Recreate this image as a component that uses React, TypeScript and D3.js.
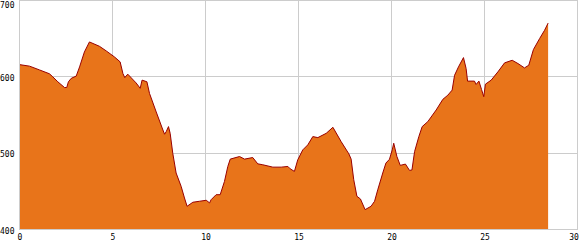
import React from "react";
import * as d3 from "d3";

const distances: number[] = [
  0, 0.54, 1.08, 1.61, 1.79, 2.06, 2.42, 2.54, 2.63, 2.78, 3.05, 3.23, 3.49, 3.76, 4.3, 4.66, 5.11,
  5.41, 5.56, 5.66, 5.82, 6.27, 6.49, 6.59, 6.85, 6.99, 7.35, 7.71, 7.8, 7.89, 8.01, 8.1, 8.24, 8.42,
  8.69, 8.87, 9.01, 9.32, 9.68, 10.04, 10.22, 10.3, 10.57, 10.79, 11.02, 11.2, 11.33, 11.83, 12.1,
  12.54, 12.81, 13.08, 13.62, 14.07, 14.43, 14.55, 14.78, 14.96, 15.23, 15.5, 15.77, 16.04, 16.49,
  16.85, 17.29, 17.71, 17.83, 17.97, 18.14, 18.33, 18.58, 18.9, 19.09, 19.26, 19.53, 19.7, 19.89,
  20.04, 20.12, 20.29, 20.47, 20.75, 20.97, 21.1, 21.24, 21.47, 21.65, 21.95, 22.4, 22.76, 23.03,
  23.26, 23.39, 23.6, 23.87, 24.01, 24.09, 24.46, 24.55, 24.7, 24.84, 24.96, 25.05, 25.36, 25.72,
  26.08, 26.49, 26.8, 27.15, 27.38, 27.63, 27.96, 28.23, 28.42,
];

const elevations: number[] = [
  616, 614, 609, 604, 600, 593.5, 586, 586, 593.5, 598, 601, 613, 632.6, 645.7, 640, 634, 626,
  619.6, 604.3, 599, 603.5, 592, 585, 595.7, 593.5, 578.3, 554, 530.4, 524.8, 528.3, 534.8, 526, 500,
  474, 456.5, 441.3, 430.4, 435.7, 437, 438.3, 434.8, 439, 445.6, 445.6, 463, 482.6, 492.2, 495.6,
  492.2, 494.3, 486, 484.8, 481.7, 481.7, 482.6, 479.6, 476.1, 491.3, 504.3, 510.9, 521.7, 520.4,
  526, 533.9, 515.2, 499, 492.2, 465.2, 443.5, 440, 426, 430.4, 437, 452, 474, 487, 492, 504.3, 513,
  495.6, 484, 485.7, 477.4, 478, 502, 521.7, 534.8, 541.3, 556.5, 570.5, 576, 582.6, 602, 613,
  625.2, 611, 594.4, 594.4, 590, 594.4, 583.5, 574, 590.4, 595.7, 606.5, 618.3, 621.7, 617.4, 611.7,
  615.2, 635.7, 650, 661, 670.4,
];

const xTicks: number[] = [0, 5, 10, 15, 20, 25, 30];
const yTicks: number[] = [400, 500, 600, 700];

const W = 580;
const H = 250;

export default function App() {
  const x = d3.scaleLinear().domain([0, 30]).range([19.5, 577.5]);
  const y = d3.scaleLinear().domain([400, 700]).range([229.5, 0.5]);
  const pts = distances.map((d, i) => [d, elevations[i]] as [number, number]);

  const area = d3
    .area<[number, number]>()
    .x((d) => x(d[0]))
    .y0(y(400))
    .y1((d) => y(d[1]))(pts) as string;
  const line = d3
    .line<[number, number]>()
    .x((d) => x(d[0]))
    .y((d) => y(d[1]))(pts) as string;

  const snap = (v: number) => Math.floor(v) + 0.5;
  const font = "'DejaVu Sans Mono', monospace";

  return (
    <svg
      width={W}
      height={H}
      style={{ position: "absolute", left: 0, top: 0, background: "#fff" }}
    >
      {yTicks.map((t) => (
        <line key={"gy" + t} x1={19.5} x2={578} y1={snap(y(t))} y2={snap(y(t))} stroke="#cccccc" strokeWidth={1} shapeRendering="crispEdges" />
      ))}
      {xTicks.map((t) => (
        <line key={"gx" + t} x1={snap(x(t))} x2={snap(x(t))} y1={0} y2={230} stroke="#cccccc" strokeWidth={1} shapeRendering="crispEdges" />
      ))}
      <path d={area} fill="#E8741A" stroke="none" />
      <path d={line} fill="none" stroke="#990000" strokeWidth={1} />
      <line x1={19.5} x2={578} y1={snap(y(400))} y2={snap(y(400))} stroke="#cccccc" strokeWidth={1} shapeRendering="crispEdges" />
      <line x1={snap(x(0))} x2={snap(x(0))} y1={0} y2={230} stroke="#cccccc" strokeWidth={1} shapeRendering="crispEdges" />
      {yTicks.map((t) => (
        <text
          key={"ly" + t}
          x={0}
          y={Math.max(y(t) + 1.5, 5.5)}
          dominantBaseline="central"
          fontFamily={font}
          fontSize={8}
          fill="#000"
        >
          {String(t)}
        </text>
      ))}
      {xTicks.map((t) => {
        const s = String(t);
        const halfW = s.length * 2.5;
        const cx = Math.min(x(t) + 0.5, W - 1 - halfW);
        return (
          <text
            key={"lx" + t}
            x={cx}
            y={237}
            textAnchor="middle"
            dominantBaseline="central"
            fontFamily={font}
            fontSize={8}
            fill="#000"
          >
            {s}
          </text>
        );
      })}
    </svg>
  );
}
